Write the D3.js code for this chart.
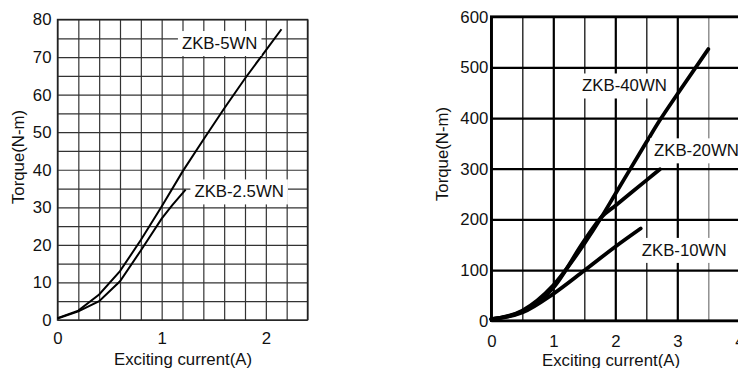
<!DOCTYPE html>
<html>
<head>
<meta charset="utf-8">
<script src="https://cdn.jsdelivr.net/npm/d3@7"></script>
<style>
  body { margin: 0; background: #fff; }
  text { font-family: "Liberation Sans", Arial, sans-serif; fill: #111; }
</style>
</head>
<body>
<script>
const width = 738;
const height = 368;
const fs = 16.8;

// left chart: ZKB-2.5WN / ZKB-5WN
const leftX = [0, 0.2, 0.4, 0.6, 0.8, 1.0, 1.2, 1.4, 1.6, 1.8, 2.0, 2.15];
const zkb5 = [0.5, 2.5, 6.8, 13, 21.3, 30.2, 39.5, 48, 56.3, 64.3, 71.8, 77.4];
const zkb25X = [0, 0.2, 0.4, 0.6, 0.8, 1.0, 1.1, 1.23];
const zkb25 = [0.4, 2.3, 5, 10.3, 18.5, 27, 30.5, 34.7];
const leftXTicks = [0, 1, 2];
const leftYTicks = [0, 10, 20, 30, 40, 50, 60, 70, 80];

// right chart: ZKB-10WN / 20WN / 40WN
const zkb40X = [0, 0.5, 1, 1.5, 1.78, 2, 2.5, 2.72, 3, 3.5];
const zkb40 = [3, 20, 70, 152, 205, 250, 352, 396, 447, 536];
const zkb20X = [0, 0.5, 1, 1.5, 1.78, 2, 2.5, 2.72];
const zkb20 = [3, 18, 65, 158, 205, 227, 277, 299];
const zkb10X = [0, 0.5, 1, 1.5, 2, 2.41];
const zkb10 = [3, 16, 53, 99, 146, 182];
const rightXTicks = [0, 1, 2, 3, 4];
const rightYTicks = [0, 100, 200, 300, 400, 500, 600];

const xTitle = "Exciting current(A)";
const yTitle = "Torque(N-m)";

let svg = d3.select("body").append("svg")
    .attr("width", width)
    .attr("height", height)

// ---------- left ----------
let lx = d3.scaleLinear().domain([0, 2.4]).range([57.5, 307.5]);
let ly = d3.scaleLinear().domain([0, 80]).range([320, 19.5]);

let lg = svg.append("g")

lg.append("g")
    .attr("transform", "translate(0," + ly(0) + ")")
    .call(d3.axisBottom(lx).tickValues(d3.range(0, 2.41, 0.2)).tickSize(-(ly(0) - ly(80))).tickFormat(""))
    .call(g => g.select(".domain").remove())
    .call(g => g.selectAll("line").attr("stroke", "#333").attr("stroke-width", 1.2))

lg.append("g")
    .attr("transform", "translate(" + lx(0) + ",0)")
    .call(d3.axisLeft(ly).tickValues(d3.range(0, 81, 5)).tickSize(-(lx(2.4) - lx(0))).tickFormat(""))
    .call(g => g.select(".domain").remove())
    .call(g => g.selectAll("line").attr("stroke", "#333").attr("stroke-width", 1.2))

lg.append("rect")
    .attr("x", lx(0)).attr("y", ly(80))
    .attr("width", lx(2.4) - lx(0)).attr("height", ly(0) - ly(80))
    .attr("fill", "none").attr("stroke", "#222").attr("stroke-width", 1.4)

lg.append("g")
    .attr("transform", "translate(0," + ly(0) + ")")
    .call(d3.axisBottom(lx).tickValues(leftXTicks).tickSize(0).tickPadding(12).tickFormat(d3.format("d")))
    .call(g => g.select(".domain").remove())
    .call(g => g.selectAll("text").attr("font-size", fs).attr("font-family", null).attr("fill", "#111"))

lg.append("g")
    .attr("transform", "translate(" + lx(0) + ",0)")
    .call(d3.axisLeft(ly).tickValues(leftYTicks).tickSize(0).tickPadding(6))
    .call(g => g.select(".domain").remove())
    .call(g => g.selectAll("text").attr("font-size", fs).attr("font-family", null).attr("fill", "#111"))

lg.append("text")
    .attr("x", 183).attr("y", 359).attr("dy", "0.35em")
    .attr("text-anchor", "middle").attr("font-size", fs)
    .text(xTitle)

lg.append("text")
    .attr("transform", "translate(18,157)rotate(-90)").attr("dy", "0.35em")
    .attr("text-anchor", "middle").attr("font-size", fs)
    .text(yTitle)

let leftLine = d3.line().x(d => lx(d[0])).y(d => ly(d[1]));
lg.append("path")
    .attr("d", leftLine(d3.zip(leftX, zkb5)))
    .attr("fill", "none").attr("stroke", "#000").attr("stroke-width", 2)
lg.append("path")
    .attr("d", leftLine(d3.zip(zkb25X, zkb25)))
    .attr("fill", "none").attr("stroke", "#000").attr("stroke-width", 2)

// ---------- right ----------
let rx = d3.scaleLinear().domain([0, 4]).range([491.3, 739.3]);
let ry = d3.scaleLinear().domain([0, 600]).range([320.7, 16.7]);

let rg = svg.append("g")

let halfLines = d3.range(0, 4.01, 0.5);
rg.append("g")
    .attr("transform", "translate(0," + ry(0) + ")")
    .call(d3.axisBottom(rx).tickValues(halfLines).tickSize(-(ry(0) - ry(600))).tickFormat(""))
    .call(g => g.select(".domain").remove())
    .call(g => g.selectAll("line")
        .attr("stroke", d => d === 3.5 ? "#888" : (d % 1 === 0 ? "#000" : "#222"))
        .attr("stroke-width", d => d % 1 === 0 ? 2.2 : 1.4))

rg.append("g")
    .attr("transform", "translate(" + rx(0) + ",0)")
    .call(d3.axisLeft(ry).tickValues(rightYTicks).tickSize(-(rx(4) - rx(0))).tickFormat(""))
    .call(g => g.select(".domain").remove())
    .call(g => g.selectAll("line").attr("stroke", "#000").attr("stroke-width", 2.2))

rg.append("rect")
    .attr("x", rx(0)).attr("y", ry(600))
    .attr("width", rx(4) - rx(0)).attr("height", ry(0) - ry(600))
    .attr("fill", "none").attr("stroke", "#000").attr("stroke-width", 2.6)

rg.append("g")
    .attr("transform", "translate(0," + ry(0) + ")")
    .call(d3.axisBottom(rx).tickValues(rightXTicks).tickSize(0).tickPadding(14).tickFormat(d3.format("d")))
    .call(g => g.select(".domain").remove())
    .call(g => g.selectAll("text").attr("font-size", fs).attr("font-family", null).attr("fill", "#111"))

rg.append("g")
    .attr("transform", "translate(" + rx(0) + ",0)")
    .call(d3.axisLeft(ry).tickValues(rightYTicks).tickSize(0).tickPadding(3))
    .call(g => g.select(".domain").remove())
    .call(g => g.selectAll("text").attr("font-size", fs).attr("font-family", null).attr("fill", "#111"))

rg.append("text")
    .attr("x", 611).attr("y", 360).attr("dy", "0.35em")
    .attr("text-anchor", "middle").attr("font-size", fs)
    .text(xTitle)

rg.append("text")
    .attr("transform", "translate(442,154)rotate(-90)").attr("dy", "0.35em")
    .attr("text-anchor", "middle").attr("font-size", fs)
    .text(yTitle)

// label boxes (white background hides grid)
function addLabel(g, x, y, txt, anchor) {
    let t = g.append("text")
        .attr("x", x).attr("y", y).attr("dy", "0.35em")
        .attr("text-anchor", anchor).attr("font-size", fs)
        .text(txt)
    let b = t.node().getBBox();
    g.insert("rect", function () { return t.node(); })
        .attr("x", b.x - 4).attr("y", b.y - 3)
        .attr("width", b.width + 8).attr("height", b.height + 6)
        .attr("fill", "#fff")
}

let rightLine = d3.line().curve(d3.curveMonotoneX).x(d => rx(d[0])).y(d => ry(d[1]));
[[zkb40X, zkb40], [zkb20X, zkb20], [zkb10X, zkb10]].forEach(s => {
    rg.append("path")
        .attr("d", rightLine(d3.zip(s[0], s[1])))
        .attr("fill", "none").attr("stroke", "#000").attr("stroke-width", 3.8)
        .attr("stroke-linecap", "round")
})

addLabel(lg, lx(1.557), ly(73.7), "ZKB-5WN", "middle")
addLabel(lg, lx(1.314), ly(34.2), "ZKB-2.5WN", "start")
addLabel(rg, rx(2.148), ry(464), "ZKB-40WN", "middle")
addLabel(rg, rx(2.624), ry(336), "ZKB-20WN", "start")
addLabel(rg, rx(2.426), ry(139.5), "ZKB-10WN", "start")
</script>
</body>
</html>
